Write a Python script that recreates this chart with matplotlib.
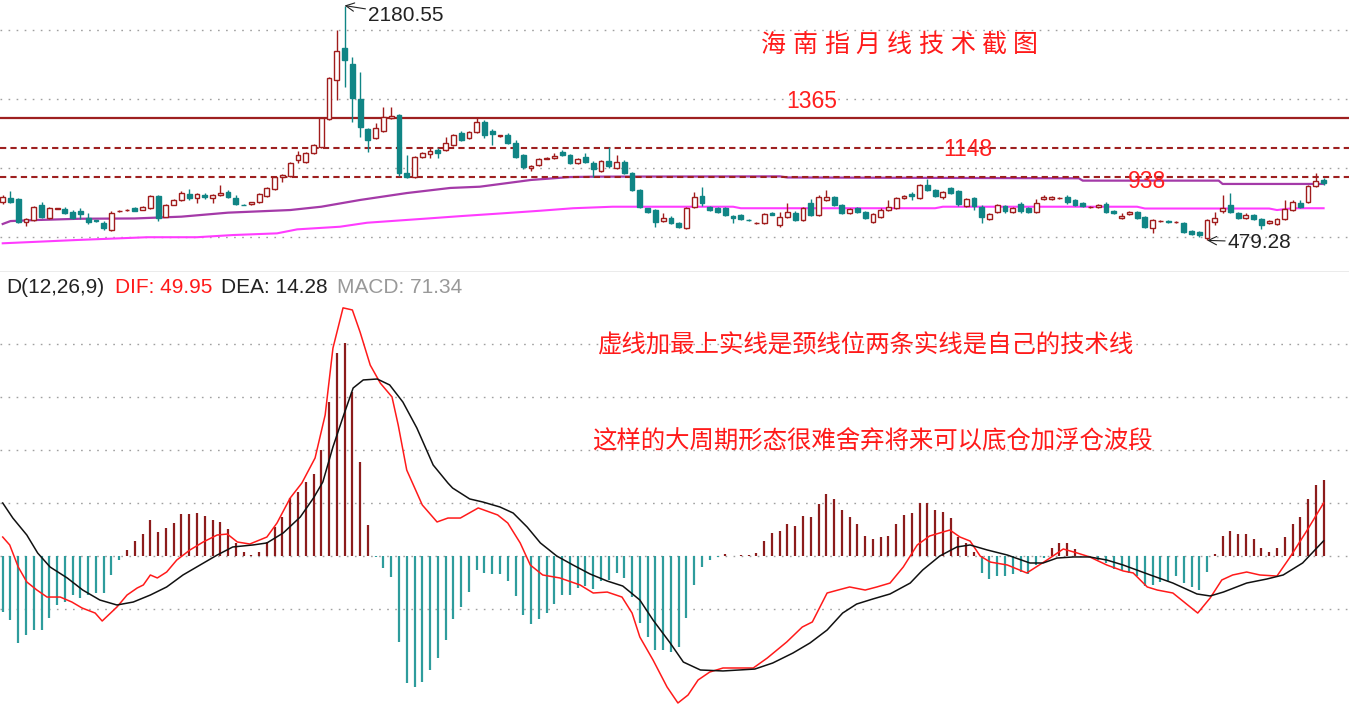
import numpy as np
import matplotlib.pyplot as plt

plt.rcParams['font.family'] = ['Liberation Sans', 'Noto Sans CJK SC', 'DejaVu Sans']
CJK = ['Noto Sans CJK SC', 'DejaVu Sans']

# monthly OHLC
opens = [757, 786, 779, 612, 627, 736, 641, 707, 707, 685,
         692, 641, 625, 605, 554, 690, 697, 714, 699, 714,
         801, 649, 736, 772, 815, 786, 808, 786, 808, 830,
         786, 738, 743, 757, 801, 851, 938, 946, 1062, 1047,
         1112, 1156, 1359, 1641, 1873, 1757, 1504, 1286, 1221, 1272,
         1366, 1388, 967, 938, 1083, 1105, 1134, 1134, 1170, 1257,
         1221, 1265, 1337, 1272, 1232, 1243, 1185, 1098, 1004, 1025,
         1069, 1076, 1120, 1098, 1040, 1083, 1040, 982, 1054, 1004,
         1047, 967, 844, 714, 699, 620, 641, 605, 569, 721,
         801, 721, 714, 714, 656, 663, 630, 603, 605, 678,
         591, 649, 678, 627, 750, 663, 772, 794, 736, 678,
         714, 685, 612, 649, 699, 714, 786, 815, 786, 881,
         844, 794, 859, 837, 728, 786, 721, 634, 685, 728,
         685, 743, 714, 685, 779, 779, 784, 794, 772, 750,
         719, 721, 743, 692, 641, 670, 685, 649, 569, 618,
         620, 610, 605, 547, 540, 497, 612, 692, 736, 678,
         641, 663, 634, 605, 598, 634, 699, 750, 757, 873, 917]
highs = [808, 837, 786, 641, 728, 757, 721, 716, 721, 699,
         714, 678, 630, 620, 692, 697, 704, 719, 726, 808,
         808, 740, 776, 837, 851, 822, 822, 815, 881, 844,
         808, 740, 760, 820, 866, 945, 960, 1047, 1127, 1120,
         1178, 1373, 1663, 2004, 2180.55, 1808, 1699, 1294, 1330, 1446,
         1446, 1395, 1098, 1090, 1118, 1149, 1149, 1228, 1250, 1272,
         1272, 1373, 1351, 1286, 1245, 1257, 1207, 1105, 1025, 1076,
         1080, 1112, 1134, 1105, 1076, 1112, 1054, 1062, 1156, 1098,
         1062, 975, 851, 716, 707, 678, 656, 612, 721, 830,
         866, 728, 721, 721, 663, 670, 634, 612, 678, 685,
         685, 750, 692, 721, 779, 808, 844, 801, 743, 714,
         721, 692, 678, 714, 772, 794, 808, 830, 888, 924,
         851, 837, 866, 844, 786, 794, 736, 678, 743, 736,
         721, 757, 721, 779, 808, 801, 792, 808, 779, 757,
         726, 743, 757, 699, 678, 692, 692, 656, 634, 627,
         624, 618, 612, 554, 547, 634, 685, 808, 822, 685,
         678, 670, 641, 627, 641, 772, 772, 772, 881, 967, 931]
lows = [743, 750, 605, 583, 620, 641, 634, 704, 670, 636,
        634, 598, 612, 554, 547, 688, 695, 690, 697, 707,
        620, 645, 733, 765, 772, 750, 779, 750, 801, 786,
        736, 732, 736, 752, 797, 846, 902, 940, 1040, 1040,
        1105, 1150, 1355, 1496, 1591, 1337, 1228, 1120, 1214, 1265,
        1359, 946, 931, 931, 1078, 1076, 1076, 1127, 1163, 1200,
        1214, 1257, 1221, 1170, 1228, 1178, 1076, 996, 982, 1018,
        1066, 1069, 1091, 1033, 1033, 1040, 938, 975, 1004, 996,
        960, 837, 714, 680, 576, 612, 598, 569, 562, 714,
        728, 692, 678, 656, 605, 627, 620, 600, 598, 660,
        576, 641, 620, 620, 656, 656, 765, 728, 670, 670,
        678, 634, 605, 641, 692, 707, 779, 772, 779, 837,
        794, 779, 815, 728, 721, 699, 605, 627, 678, 678,
        678, 678, 678, 678, 772, 772, 780, 743, 728, 721,
        716, 714, 678, 670, 634, 663, 634, 569, 533, 615,
        608, 606, 533, 518, 504, 479.28, 591, 678, 678, 634,
        634, 627, 562, 598, 591, 627, 692, 714, 750, 866, 881]
closes = [794, 757, 612, 634, 721, 649, 714, 714, 678, 641,
          670, 612, 618, 569, 678, 694, 701, 694, 721, 801,
          641, 736, 772, 822, 786, 815, 794, 808, 822, 794,
          743, 734, 757, 815, 859, 938, 953, 1040, 1098, 1112,
          1170, 1366, 1656, 1851, 1786, 1511, 1301, 1207, 1294, 1373,
          1380, 967, 938, 1083, 1112, 1127, 1112, 1185, 1243, 1207,
          1265, 1337, 1243, 1250, 1240, 1185, 1083, 1011, 1018, 1069,
          1076, 1091, 1098, 1040, 1069, 1047, 996, 1054, 1018, 1047,
          967, 844, 721, 685, 612, 641, 605, 576, 714, 794,
          750, 699, 685, 663, 641, 634, 624, 608, 670, 663,
          649, 685, 627, 714, 663, 794, 794, 736, 678, 707,
          685, 641, 670, 699, 721, 786, 801, 801, 881, 844,
          801, 830, 822, 743, 779, 728, 649, 670, 736, 692,
          714, 692, 685, 750, 794, 794, 789, 757, 736, 728,
          723, 736, 685, 678, 656, 685, 641, 576, 627, 623,
          612, 615, 540, 525, 518, 627, 641, 714, 685, 641,
          663, 634, 591, 620, 634, 707, 757, 721, 873, 909, 895]

# moving average lines (candle index, price)
ma_long_x = [0, 1, 4, 10, 17, 23, 29, 37, 41, 46, 52, 57.6, 61.4, 68, 73, 76.5,
             100, 101, 138.5, 139, 156.5, 157, 170]
ma_long_y = [598, 619, 626, 636, 638, 651, 680, 699, 723, 772, 822, 859, 868, 917, 938, 941,
             943, 935, 929, 912, 912, 888, 888]
ma_short_x = [0, 9.6, 18.6, 25, 29.7, 35.3, 37.9, 43.4, 46.9, 55, 59.2, 64.3, 69.2, 73.4, 78.5,
              94, 95, 120, 121, 146, 147, 163, 164, 166, 170]
ma_short_y = [458, 482, 502, 502, 518, 530, 559, 578, 607, 639, 656, 675, 694, 712, 723,
              723, 712, 712, 723, 723, 710, 710, 699, 712, 712]

levels = [1365, 1148, 938]

# MACD(12,26,9)
macd_hist = [-52.8, -60.4, -82, -74.5, -69.8, -69.8, -58.5, -46.2, -43.4, -36.8,
             -39.6, -36.8, -34.9, -34.9, -17.9, -3.8, 5.7, 14.1, 20.7, 34,
             22.6, 26.4, 31.1, 39.6, 39.6, 40.5, 37.7, 34, 32, 25.5,
             12.3, 3.8, 0.9, 3.8, 13.2, 27.3, 36.8, 54.7, 60.4, 69.8,
             77.3, 100, 145, 191, 201, 155, 88.6, 29.2, -1, -11.3,
             -19.8, -81, -120, -123.5, -119, -107.5, -96.2, -79.2, -59.4, -48.1,
             -34, -13.2, -16, -17, -17, -23.6, -37.7, -55.6, -64.1, -59.4,
             -53.8, -45.3, -36.8, -36.8, -30.2, -28.3, -31.1, -23.6, -22.6, -16,
             -20.7, -38.7, -63.2, -76.4, -88.6, -88.6, -90.5, -85.8, -58.5, -27.3,
             -10.4, -3.8, -0.5, 1.9, 0.3, 0.5, 0.9, 2.8, 14.1, 21.7,
             23.6, 30.2, 28.3, 37.7, 36.8, 49, 58.5, 53.8, 43.4, 36.8,
             30.2, 18.9, 16, 17.9, 18.9, 30.2, 38.7, 40.5, 50, 50,
             43.4, 41.5, 35.8, 17.9, 12.3, 3.8, -16, -21.7, -18.9, -18.9,
             -17, -15.1, -17, -8.5, -1.9, 7.5, 12.3, 12.3, 6.6, 0.3,
             -0.9, -3.8, -6.6, -12.3, -13.2, -16, -18.9, -28.3, -27.3, -24.5,
             -23.6, -18.9, -25.5, -29.2, -32.1, -15.1, 1.9, 18.9, 23.6, 20.7,
             20.7, 16, 7.5, 3.8, 7.5, 17.9, 30.2, 36.8, 53.8, 67, 71.34]
dif_x = [0, 0.9, 2.0, 3.1, 4.4, 5.7, 7.4, 8.9, 10.2, 11.9, 12.8, 14.7, 16.0, 17.3, 18.1,
         19.0, 19.9, 21.1, 22.4, 24.1, 25.8, 27.6, 28.9, 30.2, 31.8, 34.0, 35.3, 37.0,
         38.5, 40.2, 41.5, 42.5, 43.8, 45.0, 46.0, 47.3, 48.6, 50.1, 50.9, 52.0, 54.0,
         55.9, 57.3, 58.9, 61.2, 63.7, 65.0, 66.6, 67.9, 69.5, 71.7, 74.3, 76.0, 77.8,
         79.7, 81.0, 82.0, 83.7, 85.5, 86.9, 88.2, 89.5, 91.0, 92.7, 96.6, 98.4, 100.9,
         102.9, 104.2, 106.1, 107.5, 109.0, 111.0, 112.5, 114.2, 115.9, 117.7, 119.3,
         121.9, 123.2, 124.5, 125.8, 127.1, 129.3, 131.8, 134.4, 136.5, 138.3, 139.9,
         142.1, 144.2, 145.5, 147.3, 148.6, 150.6, 153.8, 155.4, 156.9, 158.3, 160.1,
         161.8, 164.0, 165.7, 167.9, 170]
dif_v = [17.9, 10.4, -10.4, -24.5, -32.1, -38.7, -38.7, -43.4, -49, -53.8, -61.3, -48.1,
         -36.8, -30.2, -27.3, -17.9, -20.7, -15.1, -3.8, 5.7, 13.2, 19.8, 20.7, 13.2, 11.3,
         17.9, 31.1, 54.7, 68.8, 92.4, 133, 196, 234, 232, 211, 180, 163, 150, 123.5, 81,
         48.1, 32.1, 35.8, 35.8, 45.3, 38.7, 31.1, 12.3, -8.5, -17.9, -20.7, -27.3, -34.9,
         -34, -38.7, -53.8, -76.4, -98.1, -123.5, -138.6, -131.1, -116.9, -109.4, -105.6,
         -105.6, -96.2, -81.1, -67, -62.2, -34.9, -32.1, -29.2, -32.1, -29.2, -25.5, -10.4,
         10.4, 18.9, 24.5, 17.9, 14.1, 0, -5.7, -8.5, -16, -3.8, 6.6, 2.8, -0.9, -8.5,
         -14.1, -16, -29.2, -32.1, -34.9, -53.8, -39.6, -22.6, -17.9, -15.1, -17.9, -18.9,
         -0.9, 24.5, 49.95]
dea_x = [0, 1.3, 3.1, 4.5, 6.1, 8.3, 10.3, 12.5, 14.7, 16.8, 19.0, 21.1, 23.2, 25.4, 27.6,
         29.6, 32.2, 34.0, 36.1, 38.3, 40.0, 41.2, 42.5, 43.8, 45.1, 46.4, 48.2, 49.8, 51.5,
         53.3, 55.4, 57.3, 57.9, 60.1, 61.8, 64.0, 65.7, 67.5, 69.2, 71.3, 73.4, 75.6, 77.8,
         79.8, 82.0, 83.7, 85.9, 87.6, 89.8, 92.7, 96.8, 99.1, 101.7, 103.9, 106.1, 108.1,
         109.9, 112.0, 114.2, 116.8, 118.4, 120.6, 122.8, 124.5, 126.7, 129.3, 132.2, 133.9,
         135.7, 137.8, 139.9, 142.1, 144.2, 147.7, 150.6, 153.7, 155.4, 157.1, 160.1, 162.7,
         164.8, 167.3, 170]
dea_v = [50, 35.8, 19.8, 2.8, -10.4, -20.7, -32.1, -41.5, -46.2, -43.4, -36.8, -29.2, -17.9,
         -8.5, 0.9, 8.5, 10.4, 12.3, 21.7, 36.8, 54.7, 69.8, 102.8, 131.1, 158.4, 166, 166.9,
         161.3, 145.2, 120.7, 85.8, 68.8, 64.1, 53.8, 50.9, 46.2, 40.5, 27.3, 12.3, 0, -8.5,
         -17, -23.6, -28.3, -41.5, -60.4, -82, -100, -107.5, -108.4, -106.6, -100.9, -91.5,
         -82, -69.8, -53.8, -45.3, -40.5, -35.8, -25.5, -13.2, 0, 8.5, 10.4, 5.7, 0.9, -6.6,
         -6.6, -1.9, -0.9, -0.9, -3.8, -8.5, -17.9, -25.5, -35.8, -37.7, -34, -25.5, -21.7,
         -17.9, -6.6, 14.28]

UP = '#a01c1c'
DOWN = '#108585'
GRID = '#a0a0a0'
W, H = 1349, 705


def fx(x):
    return x / W


def fy(y):
    return 1 - y / H


fig = plt.figure(figsize=(W / 100, H / 100), dpi=100)
ax1 = fig.add_axes([0, 1 - 272 / H, 1, 272 / H])
ax2 = fig.add_axes([0, 0, 1, 433 / H])

for ax in (ax1, ax2):
    ax.set_xlim(-0.35, 173.27)
    ax.set_xticks([])
    ax.set_yticks([])
    for s in ax.spines.values():
        s.set_visible(False)
ax1.set_ylim(250.0, 2220.9)
ax2.set_ylim(-140.5, 267.8)
ax1.spines['bottom'].set_visible(True)
ax1.spines['bottom'].set_color('#9a9a9a')
ax1.spines['bottom'].set_linewidth(1.0)

dots = (0, (1.2, 4.6))
for g in [500, 1000, 1500, 2000]:
    ax1.axhline(g, color=GRID, lw=1.0, ls=dots, zorder=0)
for g in [-50, 0, 50, 100, 150, 200]:
    ax2.axhline(g, color=GRID, lw=1.0, ls=dots, zorder=0)

# ---- price panel
o = np.array(opens, float)
h = np.array(highs, float)
l = np.array(lows, float)
c = np.array(closes, float)
idx = np.arange(len(o))
up = c >= o
cols = np.where(up, UP, DOWN)
faces = np.where(up, 'white', DOWN)
lo_b = np.minimum(o, c)
hi_b = np.maximum(o, c)

ax1.plot(ma_long_x, ma_long_y, color='#a43aa8', lw=1.6, zorder=2)
ax1.plot(ma_short_x, ma_short_y, color='#ff3cff', lw=1.5, zorder=2)

ax1.axhline(levels[0], color='#9e2020', lw=1.6, zorder=3)
ax1.axhline(levels[1], color='#9e2020', lw=1.5, ls=(0, (3, 2)), zorder=3)
ax1.axhline(levels[2], color='#9e2020', lw=1.5, ls=(0, (3, 2)), zorder=3)

ax1.vlines(idx, l, lo_b, colors=cols, lw=1.0, zorder=4)
ax1.vlines(idx, hi_b, h, colors=cols, lw=1.0, zorder=4)
ax1.bar(idx, np.maximum(hi_b - lo_b, 1.0), bottom=lo_b, width=0.62,
        color=faces, edgecolor=cols, linewidth=1.0, zorder=5)

top = int(np.argmax(h))
bot = int(np.argmin(l))
ax1.annotate('2180.55', xy=(top, h[top]), xytext=(17, -7), textcoords='offset points',
             ha='left', va='center', fontsize=15, color='#222222',
             arrowprops=dict(arrowstyle='->', color='#222222', lw=0.8, shrinkA=0, shrinkB=0),
             annotation_clip=False, zorder=6)
ax1.annotate('479.28', xy=(bot, l[bot]), xytext=(15, -1.2), textcoords='offset points',
             ha='left', va='center', fontsize=15, color='#222222',
             arrowprops=dict(arrowstyle='->', color='#222222', lw=0.8, shrinkA=0, shrinkB=0),
             annotation_clip=False, zorder=6)

fig.text(fx(812), fy(102), '1365', color='#ff2020', fontsize=16.5, ha='center', va='center')
fig.text(fx(968), fy(149.5), '1148', color='#ff2020', fontsize=16.5, ha='center', va='center')
fig.text(fx(1147), fy(181), '938', color='#ff2020', fontsize=16.5, ha='center', va='center')

title = '海南指月线技术截图'
for k, ch in enumerate(title):
    fig.text(fx(773.5 + k * 31.5), fy(45), ch, color='#ff1a1a', fontsize=18,
             ha='center', va='center', family=CJK)

# ---- MACD panel
hv = np.array(macd_hist)
hcols = np.where(hv >= 0, '#8c1c1c', '#2e9c9c')
ax2.vlines(np.arange(len(hv)), 0, hv, colors=hcols, lw=1.6, zorder=2)
ax2.plot(dif_x, dif_v, color='#ff1a1a', lw=1.1, zorder=3)
ax2.plot(dea_x, dea_v, color='#111111', lw=1.1, zorder=3)

fig.text(fx(104), fy(288), 'D(12,26,9)', color='#222222', fontsize=15, ha='right', va='center')
fig.text(fx(115), fy(288), 'DIF: 49.95', color='#ff1a1a', fontsize=15, ha='left', va='center')
fig.text(fx(221), fy(288), 'DEA: 14.28', color='#222222', fontsize=15, ha='left', va='center')
fig.text(fx(337), fy(288), 'MACD: 71.34', color='#999999', fontsize=15, ha='left', va='center')

fig.text(fx(597), fy(345), '虚线加最上实线是颈线位两条实线是自己的技术线', color='#ff1a1a',
         fontsize=17.6, ha='left', va='center', family=CJK)
fig.text(fx(592), fy(442), '这样的大周期形态很难舍弃将来可以底仓加浮仓波段', color='#ff1a1a',
         fontsize=17.6, ha='left', va='center', family=CJK)

fig.savefig('out.png', dpi=100)
